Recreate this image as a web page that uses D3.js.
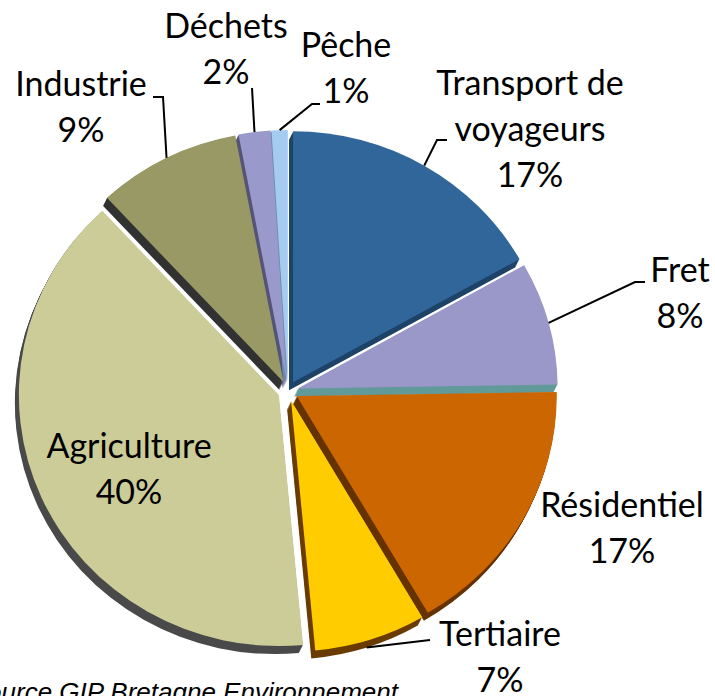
<!DOCTYPE html>
<html>
<head>
<meta charset="utf-8">
<script src="https://cdn.jsdelivr.net/npm/d3@7"></script>
<style>
body { margin: 0; background: #fff; }
svg { display: block; }
</style>
</head>
<body>
<div id="chart-area"></div>
<script>
let width = 715,
    height = 696;

// sectors + share of emissions (%)
let sectors = ["Transport de voyageurs", "Fret", "Résidentiel", "Tertiaire", "Agriculture", "Industrie", "Déchets", "Pêche"];
let shares = [17, 8, 17, 7, 40, 9, 2, 1];
// how the labels wrap in the original
let labelLines = [["Transport de", "voyageurs"], ["Fret"], ["Résidentiel"], ["Tertiaire"], ["Agriculture"], ["Industrie"], ["Déchets"], ["Pêche"]];
let source = "Source GIP Bretagne Environnement";

// colours: top face / side wall
let topColors = ["#31669a", "#9a98c9", "#cc6600", "#ffcc00", "#cccc99", "#999966", "#9999cc", "#a6cbf0"];
let sideColors = ["#1f4468", "#629a9a", "#663300", "#6b3c00", "#4a4a4a", "#333333", "#555577", "#6c8fb0"];

// pie geometry (slightly squashed, exploded)
let cx = 288, cy = 391, rx = 260, ry = 251, explode = 10;
let depthX = -4, depthY = 8, steps = 9;

// label placement: centre x, first baseline, elbow points of the leader
let labelPos = [
    {x: 530, y: 95, pts: [[437, 140], [447, 140]]},
    {x: 680, y: 282, pts: [[635, 282], [645, 282]]},
    {x: 622, y: 517, pts: null},
    {x: 500, y: 646, pts: [[430, 640]]},
    {x: 129, y: 458, pts: null},
    {x: 81, y: 96, pts: [[163, 97], [153, 97]]},
    {x: 226, y: 38, pts: [[252, 88]]},
    {x: 346, y: 57, pts: [[312, 104], [320, 104]]}
];
let lineGap = 46;

let svg = d3.select("#chart-area")
    .append("svg")
    .attr("width", width)
    .attr("height", height);

let pie = d3.pie().sort(null).value(d => d);
let slices = pie(shares);

let arc = d3.arc().innerRadius(0).outerRadius(ry);

// apex of each exploded slice
slices.forEach(function(d) {
    let mid = (d.startAngle + d.endAngle) / 2;
    d.mid = mid;
    d.ax = cx + explode * Math.sin(mid);
    d.ay = cy - explode * Math.cos(mid);
});

//side walls first (stack of darker copies)
let walls = svg.append("g");
slices.forEach(function(d, i) {
    for (let k = steps; k >= 1; k--) {
        walls.append("path")
            .attr("d", arc(d))
            .attr("transform", "translate(" + (d.ax + depthX * k / steps) + "," + (d.ay + depthY * k / steps) + ") scale(" + (rx / ry) + ",1)")
            .style("fill", sideColors[i]);
    }
});

//top faces
svg.append("g")
    .selectAll("path")
    .data(slices)
    .enter()
    .append("path")
    .attr("d", arc)
    .attr("transform", d => "translate(" + d.ax + "," + d.ay + ") scale(" + (rx / ry) + ",1)")
    .style("fill", (d, i) => topColors[i]);

//leader lines (start on the rim; bottom ones start under the wall)
let line = d3.line();
slices.forEach(function(d, i) {
    let p = labelPos[i];
    if (!p.pts) return;
    let start = [d.ax + rx * Math.sin(d.mid), d.ay - ry * Math.cos(d.mid)];
    if (Math.cos(d.mid) < 0) start = [start[0] + depthX, start[1] + depthY];
    svg.append("path")
        .attr("d", line([start].concat(p.pts)))
        .style("fill", "none")
        .style("stroke", "#000")
        .style("stroke-width", 2);
});

//labels
let labels = svg.append("g")
    .style("font-family", "Lato, 'Open Sans', sans-serif")
    .style("font-size", "34px")
    .style("fill", "#000")
    .attr("text-anchor", "middle");

sectors.forEach(function(name, i) {
    let p = labelPos[i];
    let lines = labelLines[i].concat([shares[i] + "%"]);
    let t = labels.append("text").attr("x", p.x).attr("y", p.y);
    lines.forEach(function(l, j) {
        t.append("tspan")
            .attr("x", p.x)
            .attr("dy", j == 0 ? 0 : lineGap)
            .text(l);
    });
});

//source (cut off on the left like the original)
svg.append("text")
    .attr("x", 398)
    .attr("y", 701)
    .attr("text-anchor", "end")
    .style("font-family", "'Liberation Sans', Arial, sans-serif")
    .style("font-style", "italic")
    .style("font-size", "26px")
    .text(source);
</script>
</body>
</html>
